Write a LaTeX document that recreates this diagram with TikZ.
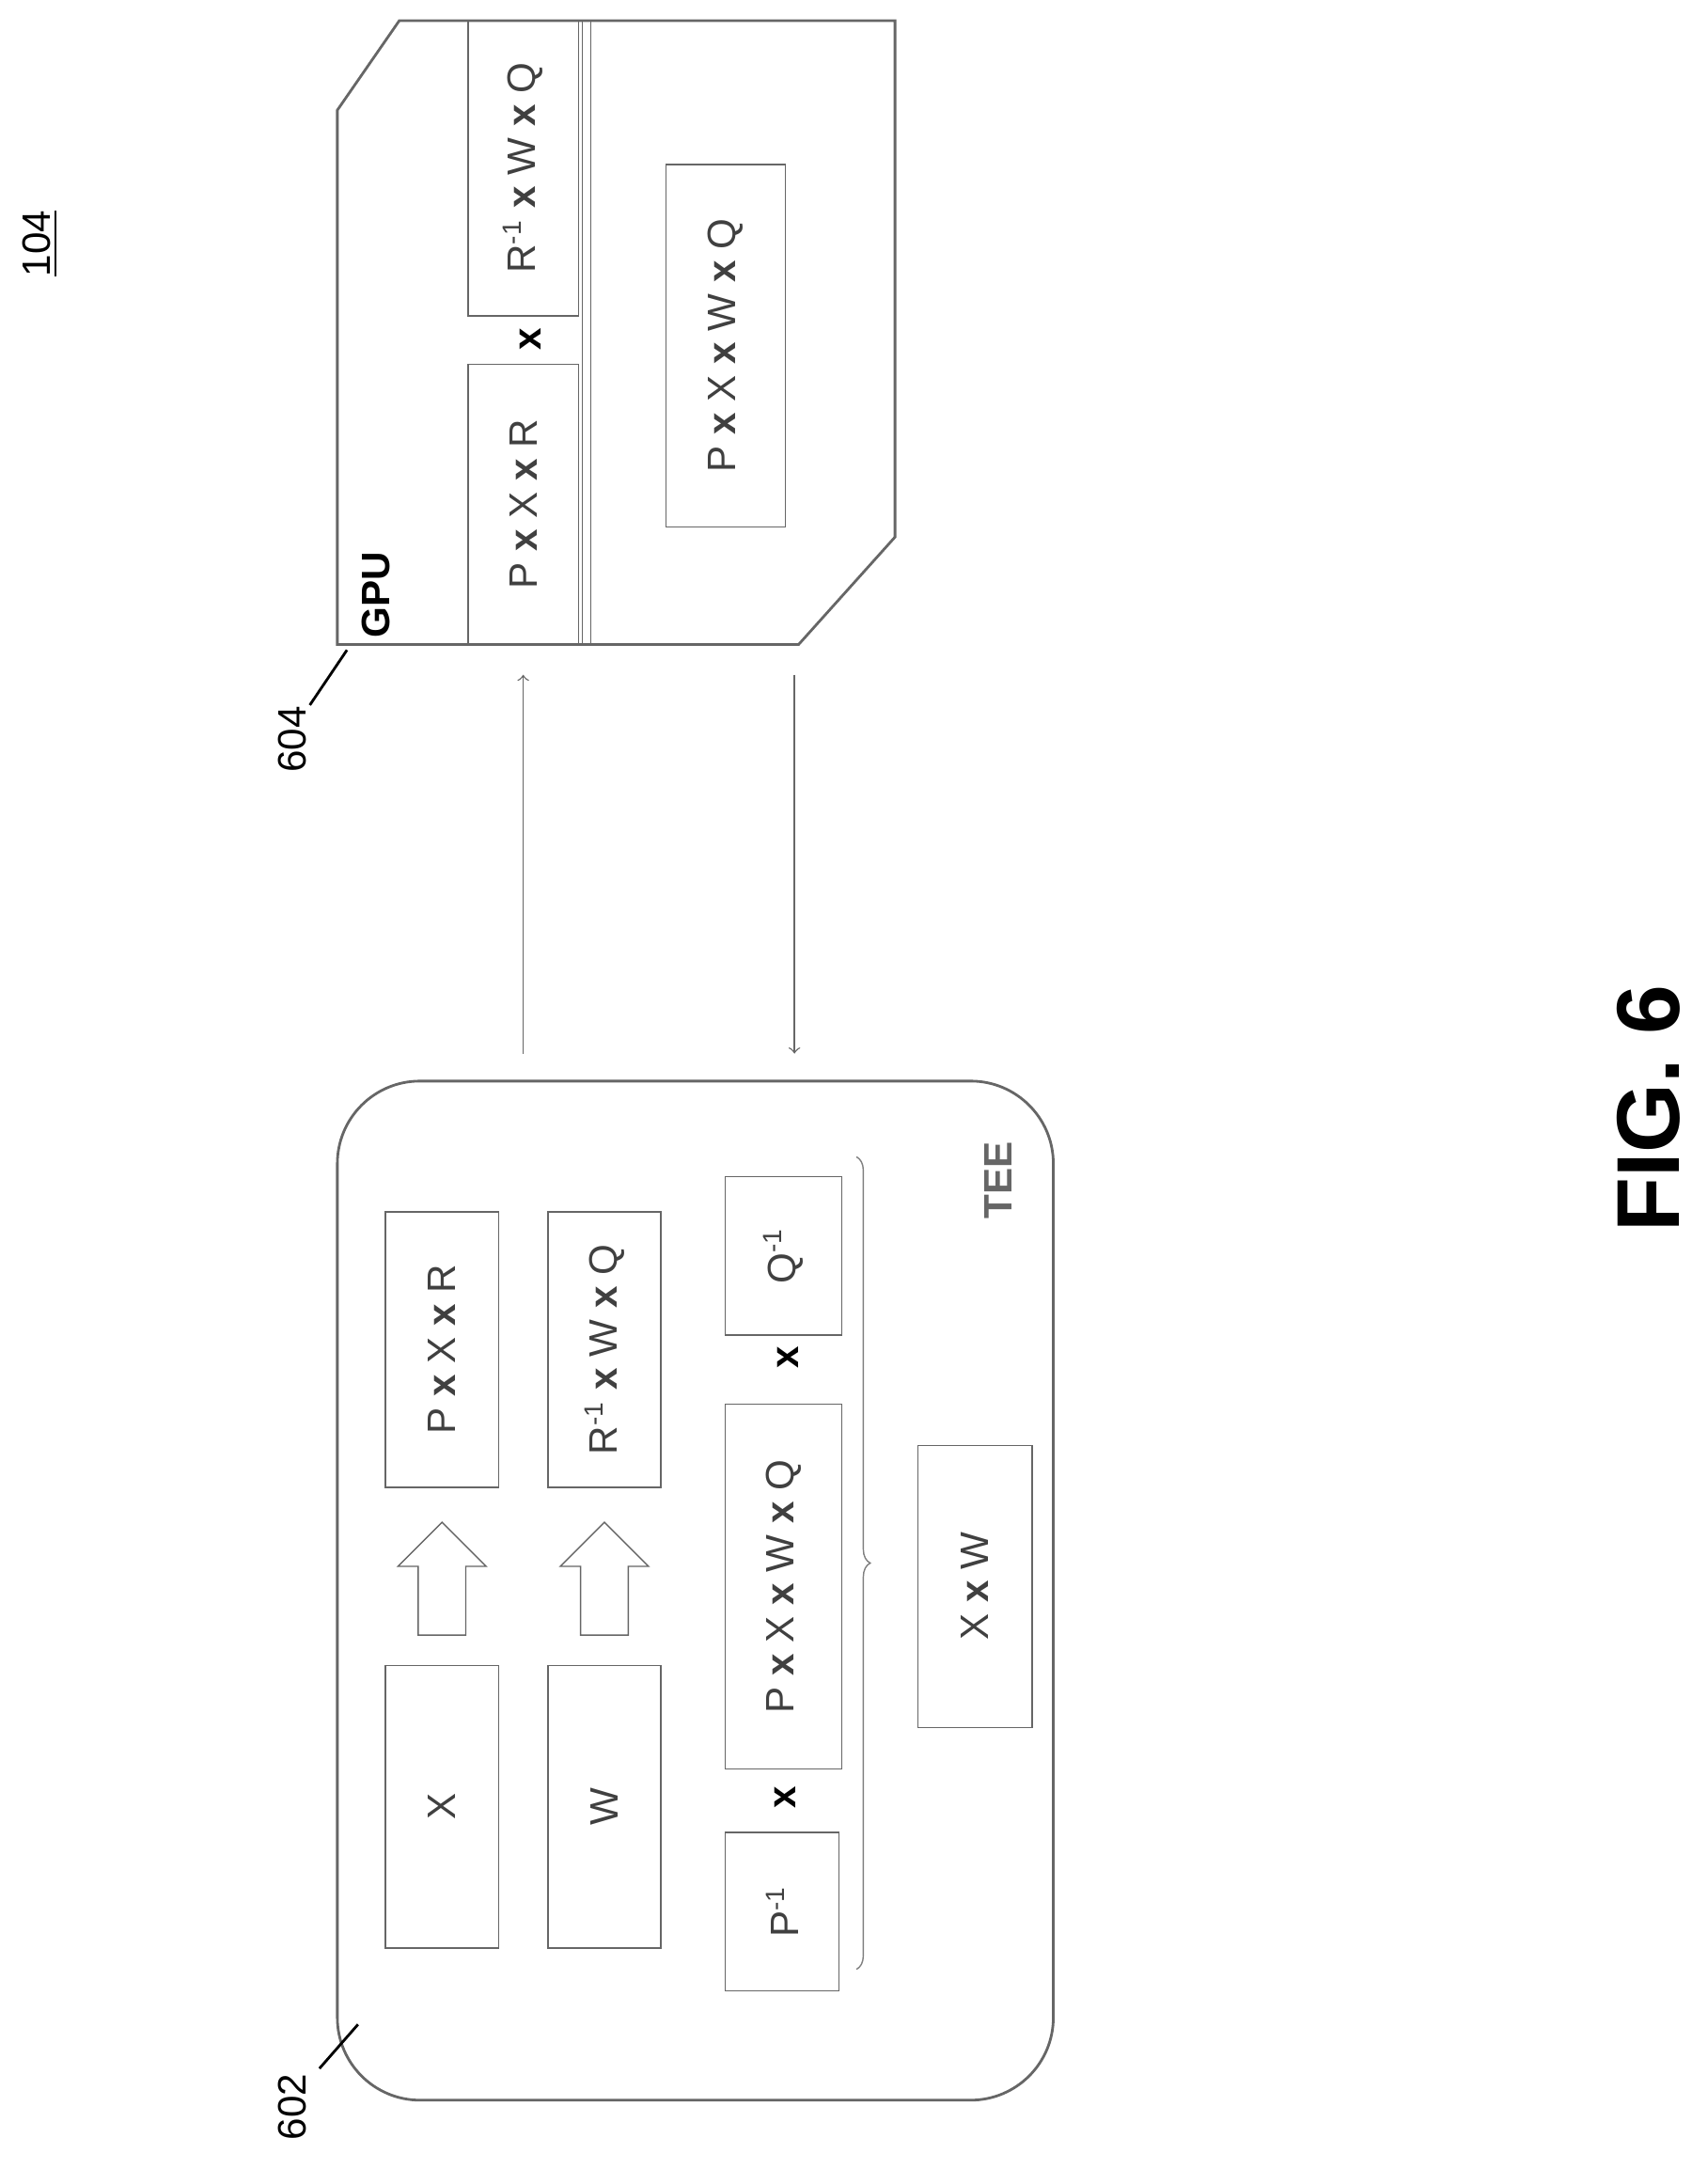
\documentclass[tikz,border=0pt]{standalone}
\usepackage{fontspec}
\setmainfont{Liberation Sans}
\usetikzlibrary{shapes.arrows,decorations.pathreplacing}
\def\u{0.014645cm}
\begin{document}
\begin{tikzpicture}[x=0.014645cm,y=-0.014645cm,
  box/.style={draw=black!60, rotate=90, font=\fontsize{12}{14}\selectfont, text=black!75, inner sep=0pt},
  times/.style={rotate=90, font=\fontsize{12}{14}\selectfont\bfseries},
  lbl/.style={rotate=90, font=\fontsize{12}{14}\selectfont},
  blockarrow/.style={draw=black!60, single arrow, rotate=90, minimum height=82*\u, minimum width=64*\u, inner xsep=0pt, inner ysep=16*\u, single arrow head extend=14*\u}]
\useasboundingbox (0,0) rectangle (1240,1575);
\node[lbl] at (29,177) {\underline{104}};
% GPU
\draw[black!60, thick] (290,15) -- (650,15) -- (650,390) -- (580,468) -- (245,468) -- (245,80) -- cycle;
\draw[black!60] (423,15) -- (423,468);
\draw[black!60] (429,15) -- (429,468);
\node[lbl, font=\fontsize{12}{14}\selectfont\bfseries] at (273,432) {GPU};
\node[box, minimum width=203*\u, minimum height=80*\u] (pxr) at (380,366) {P \textbf{x} X \textbf{x} R};
\node[box, minimum width=215*\u, minimum height=80*\u] (rwq) at (380,122) {R\textsuperscript{-1} \textbf{x} W \textbf{x} Q};
\node[times] at (385,246) {x};
\node[box, minimum width=263*\u, minimum height=87*\u] (pxwq) at (527,251) {P \textbf{x} X \textbf{x} W \textbf{x} Q};
\node[lbl] (n604) at (212,537) {604};
\draw[thick] (225,512) -- (252,472);
% arrows
\coordinate (a1) at (380,765); \coordinate (a2) at (380,490);
\coordinate (b1) at (577,490); \coordinate (b2) at (577,765);
\draw[->, black!60] (a1) -- (a2);
\draw[->, black!60] (b1) -- (b2);
% TEE
\draw[black!60, thick, rounded corners=60*\u] (245,785) rectangle (765,1525);
\node[lbl, text=black!60, font=\fontsize{12}{14}\selectfont\bfseries] at (725,857) {TEE};
\node[box, minimum width=205*\u, minimum height=82*\u] (x) at (321,1312) {X};
\node[box, minimum width=205*\u, minimum height=82*\u] (w) at (439,1312) {W};
\node[box, minimum width=200*\u, minimum height=82*\u] (pxr2) at (321,980) {P \textbf{x} X \textbf{x} R};
\node[box, minimum width=200*\u, minimum height=82*\u] (rwq2) at (439,980) {R\textsuperscript{-1} \textbf{x} W \textbf{x} Q};
\node[blockarrow] (ar1) at (321,1155) {};
\node[blockarrow] (ar2) at (439,1155) {};
\node[box, minimum width=115*\u, minimum height=83*\u] (pinv) at (568,1388) {P\textsuperscript{-1}};
\node[times] at (570,1305) {x};
\node[box, minimum width=265*\u, minimum height=85*\u] (pxwq2) at (569,1152) {P \textbf{x} X \textbf{x} W \textbf{x} Q};
\node[times] at (572,986) {x};
\node[box, minimum width=115*\u, minimum height=85*\u] (qinv) at (569,912) {Q\textsuperscript{-1}};
\draw[black!50, decorate, decoration={brace, amplitude=10*\u}] (622,840) -- (622,1430);
\node[box, minimum width=205*\u, minimum height=83*\u] (xw) at (708,1152) {X \textbf{x} W};
\node[lbl] (n602) at (212,1530) {602};
\draw[thick] (232,1502) -- (260,1470);
\node[rotate=90, font=\fontsize{27}{30}\selectfont\bfseries] at (1197,805) {FIG. 6};
\end{tikzpicture}
\end{document}
